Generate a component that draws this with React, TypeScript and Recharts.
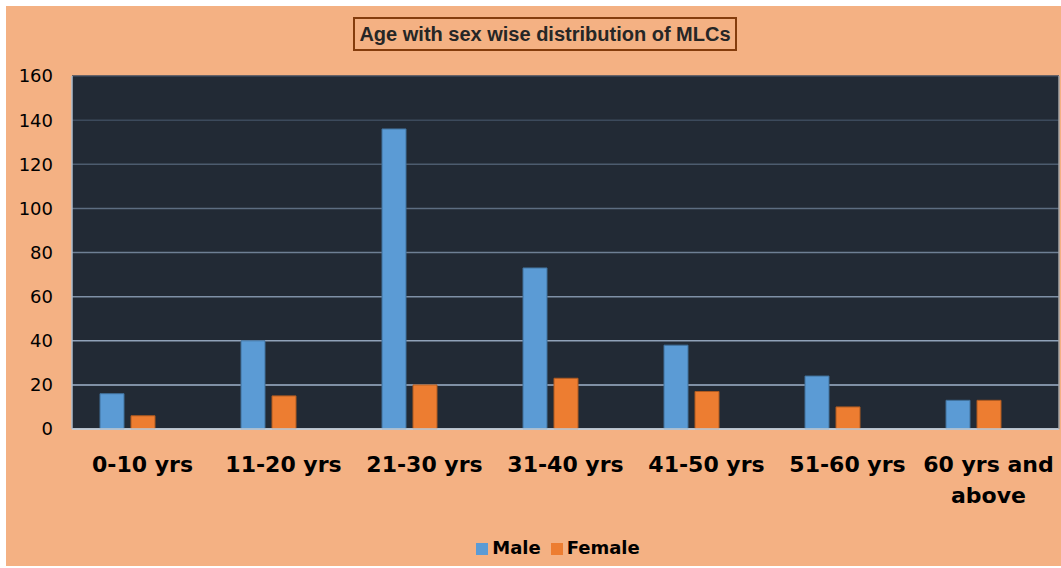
import React from 'react'
import { BarChart, Bar, XAxis, YAxis, CartesianGrid, Legend, Text } from 'recharts'

const categories = ['0-10 yrs', '11-20 yrs', '21-30 yrs', '31-40 yrs', '41-50 yrs', '51-60 yrs', '60 yrs and above']
const maleValues = [16, 40, 136, 73, 38, 24, 13]
const femaleValues = [6, 15, 20, 23, 17, 10, 13]
const yTicks = [0, 20, 40, 60, 80, 100, 120, 140, 160]
const seriesNames = ['Male', 'Female']

const chartData = categories.map((name, i) => ({ name, male: maleValues[i], female: femaleValues[i] }))

// grid lines fade from dark at the top to light near the base
const hex = (c: string) => [1, 3, 5].map((i) => parseInt(c.slice(i, i + 2), 16))
const gridColor = (y: number) => {
  const a = hex('#3c4a5c')
  const b = hex('#a0b3cb')
  const t = Math.min(1, Math.max(0, (y - 114) / (378 - 114)))
  return `rgb(${a.map((v, i) => Math.round(v + (b[i] - v) * t)).join(',')})`
}

const AgeTick = (props: any) => {
  const { x, y, payload } = props
  const style = { fontFamily: 'DejaVu Sans', fontWeight: 'bold', fontSize: 22 }
  return (
    <Text x={x} y={y} width={141} textAnchor="middle" verticalAnchor="start" lineHeight={31} fill="#000" style={style}>
      {payload.value}
    </Text>
  )
}

export default function App() {
  return (
    <div style={{ position: 'absolute', left: 6, top: 6, width: 1055, height: 560, background: '#f4b183' }}>
      <div
        style={{
          position: 'absolute', left: 347, top: 11, width: 384, height: 34, boxSizing: 'border-box',
          border: '2px solid #843c0c', display: 'flex', alignItems: 'center', justifyContent: 'center',
          fontFamily: 'Liberation Sans', fontWeight: 'bold', fontSize: 20, color: '#262626', zIndex: 2,
        }}
      >
        Age with sex wise distribution of MLCs
      </div>
      <BarChart width={1055} height={560} data={chartData} margin={{ top: 70, right: 1, left: 0, bottom: 8 }} barGap={7}>
        <CartesianGrid
          vertical={false}
          fill="#222a35"
          fillOpacity={1}
          horizontal={(p: any) => (
            <line key={`h-${p.index}`} x1={p.x1} x2={p.x2} y1={p.y1} y2={p.y2} stroke={gridColor(p.y1)} strokeWidth={1.5} />
          )}
        />
        <XAxis
          dataKey="name"
          interval={0}
          tickLine={false}
          tickSize={0}
          tickMargin={27}
          height={108}
          axisLine={{ stroke: '#c8d0da', strokeWidth: 1.5 }}
          tick={<AgeTick />}
        />
        <YAxis
          domain={[0, 160]}
          ticks={yTicks}
          width={66}
          tickLine={false}
          tickSize={0}
          tickMargin={19}
          axisLine={{ stroke: '#aebccc', strokeWidth: 1.5 }}
          tick={{ fill: '#000', fontSize: 18, fontFamily: 'DejaVu Sans' }}
        />
        <YAxis yAxisId="right" orientation="right" width={1} tick={false} tickLine={false} axisLine={{ stroke: '#a5a5a5', strokeWidth: 1.5 }} />
        <Legend
          verticalAlign="bottom"
          iconType="square"
          iconSize={12}
          itemSorter={(item: any) => seriesNames.indexOf(item.value)}
          wrapperStyle={{ fontFamily: 'DejaVu Sans', fontWeight: 'bold', fontSize: 18, paddingLeft: 30 }}
          formatter={(v: string) => <span style={{ color: '#000' }}>{v}</span>}
        />
        <Bar dataKey="male" name="Male" fill="#5b9bd5" stroke="#41719c" barSize={24} isAnimationActive={false} />
        <Bar dataKey="female" name="Female" fill="#ed7d31" stroke="#ae5a21" barSize={24} isAnimationActive={false} />
        <Bar dataKey="blank" legendType="none" fill="none" barSize={24} isAnimationActive={false} />
      </BarChart>
    </div>
  )
}
